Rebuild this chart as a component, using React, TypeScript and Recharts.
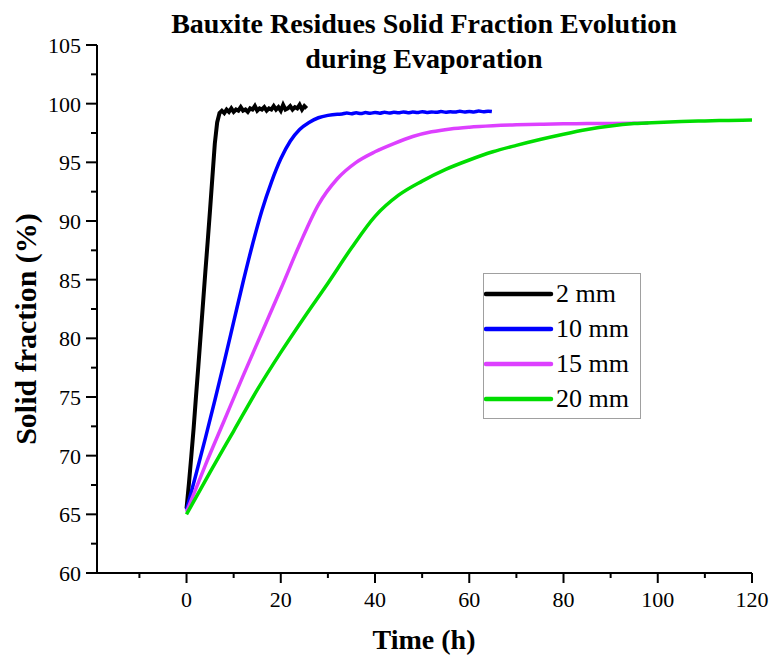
import { LineChart, Line, XAxis, YAxis, Legend } from 'recharts';

// [time (h), solid fraction (%)]
const black2mm: [number, number][] = [
  [0, 65.5], [0.5, 67.6], [1, 69.9], [1.5, 72.3], [2, 75.0], [2.5, 77.6], [3, 80.3],
  [3.5, 83.0], [4, 85.7], [4.5, 88.3], [5, 91.0], [5.5, 93.8], [6, 96.6], [6.5, 98.4],
  [7, 99.2], [7.5, 99.4], [8, 99.2], [8.5, 99.5], [9, 99.3], [9.5, 99.6], [10, 99.3],
  [10.5, 99.5], [11, 99.4], [11.5, 99.7], [12, 99.4], [12.5, 99.5], [13, 99.3],
  [13.5, 99.6], [14, 99.5], [14.5, 99.8], [15, 99.4], [15.5, 99.6], [16, 99.5],
  [16.5, 99.7], [17, 99.4], [17.5, 99.6], [18, 99.5], [18.5, 99.8], [19, 99.5],
  [19.5, 99.7], [20, 99.4], [20.5, 99.9], [21, 99.5], [21.5, 99.6], [22, 99.8],
  [22.5, 99.5], [23, 99.7], [23.5, 99.6], [24, 99.9], [24.5, 99.5], [25, 99.8], [25.5, 99.6],
];

const blue10mm: [number, number][] = [
  [0, 65.4], [2, 68.4], [4, 71.5], [6, 74.7], [8, 78.0], [10, 81.4], [12, 84.8],
  [14, 88.0], [16, 90.9], [18, 93.3], [20, 95.3], [22, 96.8], [24, 97.8], [26, 98.4],
  [28, 98.8], [30, 99.0], [32, 99.1], [33, 99.12], [34, 99.2], [35, 99.14], [36, 99.22],
  [37, 99.16], [38, 99.24], [39, 99.18], [40, 99.25], [41, 99.19], [42, 99.27], [43, 99.2],
  [44, 99.26], [45, 99.22], [46, 99.3], [47, 99.23], [48, 99.28], [49, 99.24], [50, 99.32],
  [51, 99.25], [52, 99.3], [53, 99.26], [54, 99.33], [55, 99.27], [56, 99.31], [57, 99.28],
  [58, 99.36], [59, 99.29], [60, 99.34], [61, 99.3], [62, 99.37], [63, 99.31], [64, 99.36],
  [64.8, 99.33],
];

const magenta15mm: [number, number][] = [
  [0, 65.2], [4, 69.2], [8, 73.0], [12, 76.8], [16, 80.5], [20, 84.2], [24, 88.0],
  [28, 91.4], [32, 93.6], [36, 95.0], [40, 95.9], [44, 96.6], [48, 97.2], [52, 97.6],
  [56, 97.85], [60, 98.0], [65, 98.12], [70, 98.2], [75, 98.25], [80, 98.28], [85, 98.3],
  [90, 98.32], [95, 98.33], [98, 98.35],
];

const green20mm: [number, number][] = [
  [0, 65.0], [5, 68.6], [10, 72.1], [15, 75.6], [20, 78.8], [25, 81.8], [30, 84.7],
  [35, 87.7], [40, 90.4], [45, 92.2], [50, 93.4], [55, 94.4], [60, 95.2], [65, 95.9],
  [70, 96.45], [75, 96.95], [80, 97.4], [85, 97.8], [90, 98.1], [95, 98.3], [100, 98.4],
  [105, 98.48], [110, 98.53], [115, 98.57], [120, 98.6],
];

const seriesNames = ['2 mm', '10 mm', '15 mm', '20 mm'];
const xTicks = [-10, 0, 10, 20, 30, 40, 50, 60, 70, 80, 90, 100, 110, 120];
const yTicks = [60, 62.5, 65, 67.5, 70, 72.5, 75, 77.5, 80, 82.5, 85, 87.5, 90, 92.5, 95, 97.5, 100, 102.5, 105];

const FONT = '"Liberation Serif", "Times New Roman", serif';

const toRows = (pts: [number, number][]) => pts.map(([t, v]) => ({ t, v }));

function XTick({ x, y, payload }: any) {
  const major = payload.value % 20 === 0;
  return (
    <g>
      <line x1={x} x2={x} y1={y} y2={y + (major ? 10 : 5)} stroke="#000" strokeWidth={2} />
      {major && (
        <text x={x} y={y + 34} textAnchor="middle" fontSize={22} fontFamily={FONT} fill="#000">
          {payload.value}
        </text>
      )}
    </g>
  );
}

function YTick({ x, y, payload }: any) {
  const major = payload.value % 5 === 0;
  return (
    <g>
      <line x1={x - (major ? 11 : 6)} x2={x} y1={y} y2={y} stroke="#000" strokeWidth={2} />
      {major && (
        <text x={x - 16} y={y + 8} textAnchor="end" fontSize={22} fontFamily={FONT} fill="#000">
          {payload.value}
        </text>
      )}
    </g>
  );
}

function LegendBox({ payload }: any) {
  const items = [...(payload || [])].sort(
    (a: any, b: any) => seriesNames.indexOf(a.value) - seriesNames.indexOf(b.value)
  );
  return (
    <div style={{ width: 156, height: 144, border: '1px solid #a0a0a0', background: '#fff' }}>
      <svg width={156} height={144}>
        {items.map((entry: any, i: number) => {
          const cy = 20 + i * 35;
          return (
            <g key={entry.value}>
              <line x1={2} x2={67} y1={cy} y2={cy} stroke={entry.color} strokeWidth={4.5} strokeLinecap="round" />
              <text x={72} y={cy + 8} fontSize={26} fontFamily={FONT} fill="#000">
                {entry.value}
              </text>
            </g>
          );
        })}
      </svg>
    </div>
  );
}

export default function App() {
  return (
    <div style={{ position: 'absolute', left: 0, top: 0, width: 771, height: 657, background: '#fff' }}>
      <LineChart width={771} height={657} margin={{ top: 45, right: 19, bottom: 0, left: 0 }}>
        <XAxis
          type="number"
          dataKey="t"
          domain={[-19, 120]}
          ticks={xTicks}
          interval={0}
          height={84}
          tickSize={0}
          tickMargin={0}
          tickLine={false}
          tick={<XTick />}
          axisLine={{ stroke: '#000', strokeWidth: 2 }}
          allowDataOverflow
        />
        <YAxis
          type="number"
          domain={[60, 105]}
          ticks={yTicks}
          interval={0}
          width={97}
          tickSize={0}
          tickMargin={0}
          tickLine={false}
          tick={<YTick />}
          axisLine={{ stroke: '#000', strokeWidth: 2 }}
        />
        <Legend
          layout="vertical"
          align="center"
          verticalAlign="middle"
          content={<LegendBox />}
          wrapperStyle={{ left: 483, top: 273, width: 158, height: 146 }}
        />
        <Line data={toRows(black2mm)} dataKey="v" name="2 mm" stroke="#000000" strokeWidth={4} dot={false} type="linear" isAnimationActive={false} />
        <Line data={toRows(blue10mm)} dataKey="v" name="10 mm" stroke="#0000ff" strokeWidth={3.5} dot={false} type="monotone" isAnimationActive={false} />
        <Line data={toRows(magenta15mm)} dataKey="v" name="15 mm" stroke="#dd40ff" strokeWidth={3.5} dot={false} type="monotone" isAnimationActive={false} />
        <Line data={toRows(green20mm)} dataKey="v" name="20 mm" stroke="#00dd00" strokeWidth={3.5} dot={false} type="monotone" isAnimationActive={false} />
      </LineChart>
      <svg width={771} height={657} style={{ position: 'absolute', left: 0, top: 0, pointerEvents: 'none' }}>
        <text x={424} y={33} textAnchor="middle" fontSize={28} fontWeight="bold" fontFamily={FONT}>
          Bauxite Residues Solid Fraction Evolution
        </text>
        <text x={424} y={68} textAnchor="middle" fontSize={28} fontWeight="bold" fontFamily={FONT}>
          during Evaporation
        </text>
        <text x={424} y={649} textAnchor="middle" fontSize={28} fontWeight="bold" fontFamily={FONT}>
          Time (h)
        </text>
        <text x={36} y={329} textAnchor="middle" fontSize={30} fontWeight="bold" fontFamily={FONT} transform="rotate(-90, 36, 329)">
          Solid fraction (%)
        </text>
      </svg>
    </div>
  );
}
